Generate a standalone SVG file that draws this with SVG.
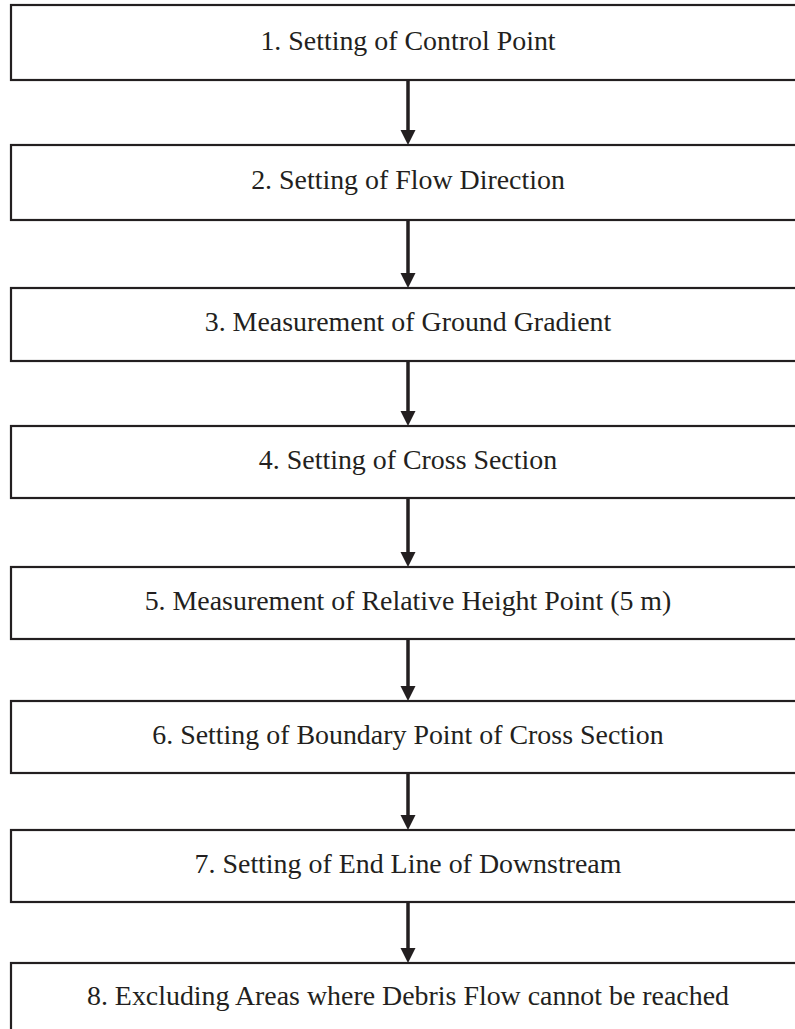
<svg xmlns="http://www.w3.org/2000/svg" width="795" height="1029" viewBox="0 0 795 1029">
<style>
.box{fill:#fff;stroke:#231f20;stroke-width:2.2}
.lbl{font-family:"Liberation Serif","Times New Roman",serif;font-size:27.9px;fill:#231f20;text-anchor:middle}
.shaft{stroke:#231f20;stroke-width:3.5;fill:none}
.head{fill:#231f20}
</style>
<rect width="795" height="1029" fill="#fff"/>
<g id="connectors">
<line class="shaft" x1="408" y1="80" x2="408" y2="132"/><polygon class="head" points="400.5,130 415.5,130 408,145"/>
<line class="shaft" x1="408" y1="220" x2="408" y2="275"/><polygon class="head" points="400.5,273 415.5,273 408,288"/>
<line class="shaft" x1="408" y1="361" x2="408" y2="413"/><polygon class="head" points="400.5,411 415.5,411 408,426"/>
<line class="shaft" x1="408" y1="498" x2="408" y2="554"/><polygon class="head" points="400.5,552 415.5,552 408,567"/>
<line class="shaft" x1="408" y1="639" x2="408" y2="688"/><polygon class="head" points="400.5,686 415.5,686 408,701"/>
<line class="shaft" x1="408" y1="773" x2="408" y2="817"/><polygon class="head" points="400.5,815 415.5,815 408,830"/>
<line class="shaft" x1="408" y1="902" x2="408" y2="950"/><polygon class="head" points="400.5,948 415.5,948 408,963"/>
</g>
<g id="n1"><rect class="box" x="11" y="5" width="800" height="75"/><text class="lbl" x="408" y="50">1. Setting of Control Point</text></g>
<g id="n2"><rect class="box" x="11" y="145" width="800" height="75"/><text class="lbl" x="408" y="189">2. Setting of Flow Direction</text></g>
<g id="n3"><rect class="box" x="11" y="288" width="800" height="73"/><text class="lbl" x="408" y="331">3. Measurement of Ground Gradient</text></g>
<g id="n4"><rect class="box" x="11" y="426" width="800" height="72"/><text class="lbl" x="408" y="469">4. Setting of Cross Section</text></g>
<g id="n5"><rect class="box" x="11" y="567" width="800" height="72"/><text class="lbl" x="408" y="610">5. Measurement of Relative Height Point (5 m)</text></g>
<g id="n6"><rect class="box" x="11" y="701" width="800" height="72"/><text class="lbl" x="408" y="744">6. Setting of Boundary Point of Cross Section</text></g>
<g id="n7"><rect class="box" x="11" y="830" width="800" height="72"/><text class="lbl" x="408" y="873">7. Setting of End Line of Downstream</text></g>
<g id="n8"><rect class="box" x="11" y="963" width="800" height="100"/><text class="lbl" x="408" y="1005">8. Excluding Areas where Debris Flow cannot be reached</text></g>
</svg>
